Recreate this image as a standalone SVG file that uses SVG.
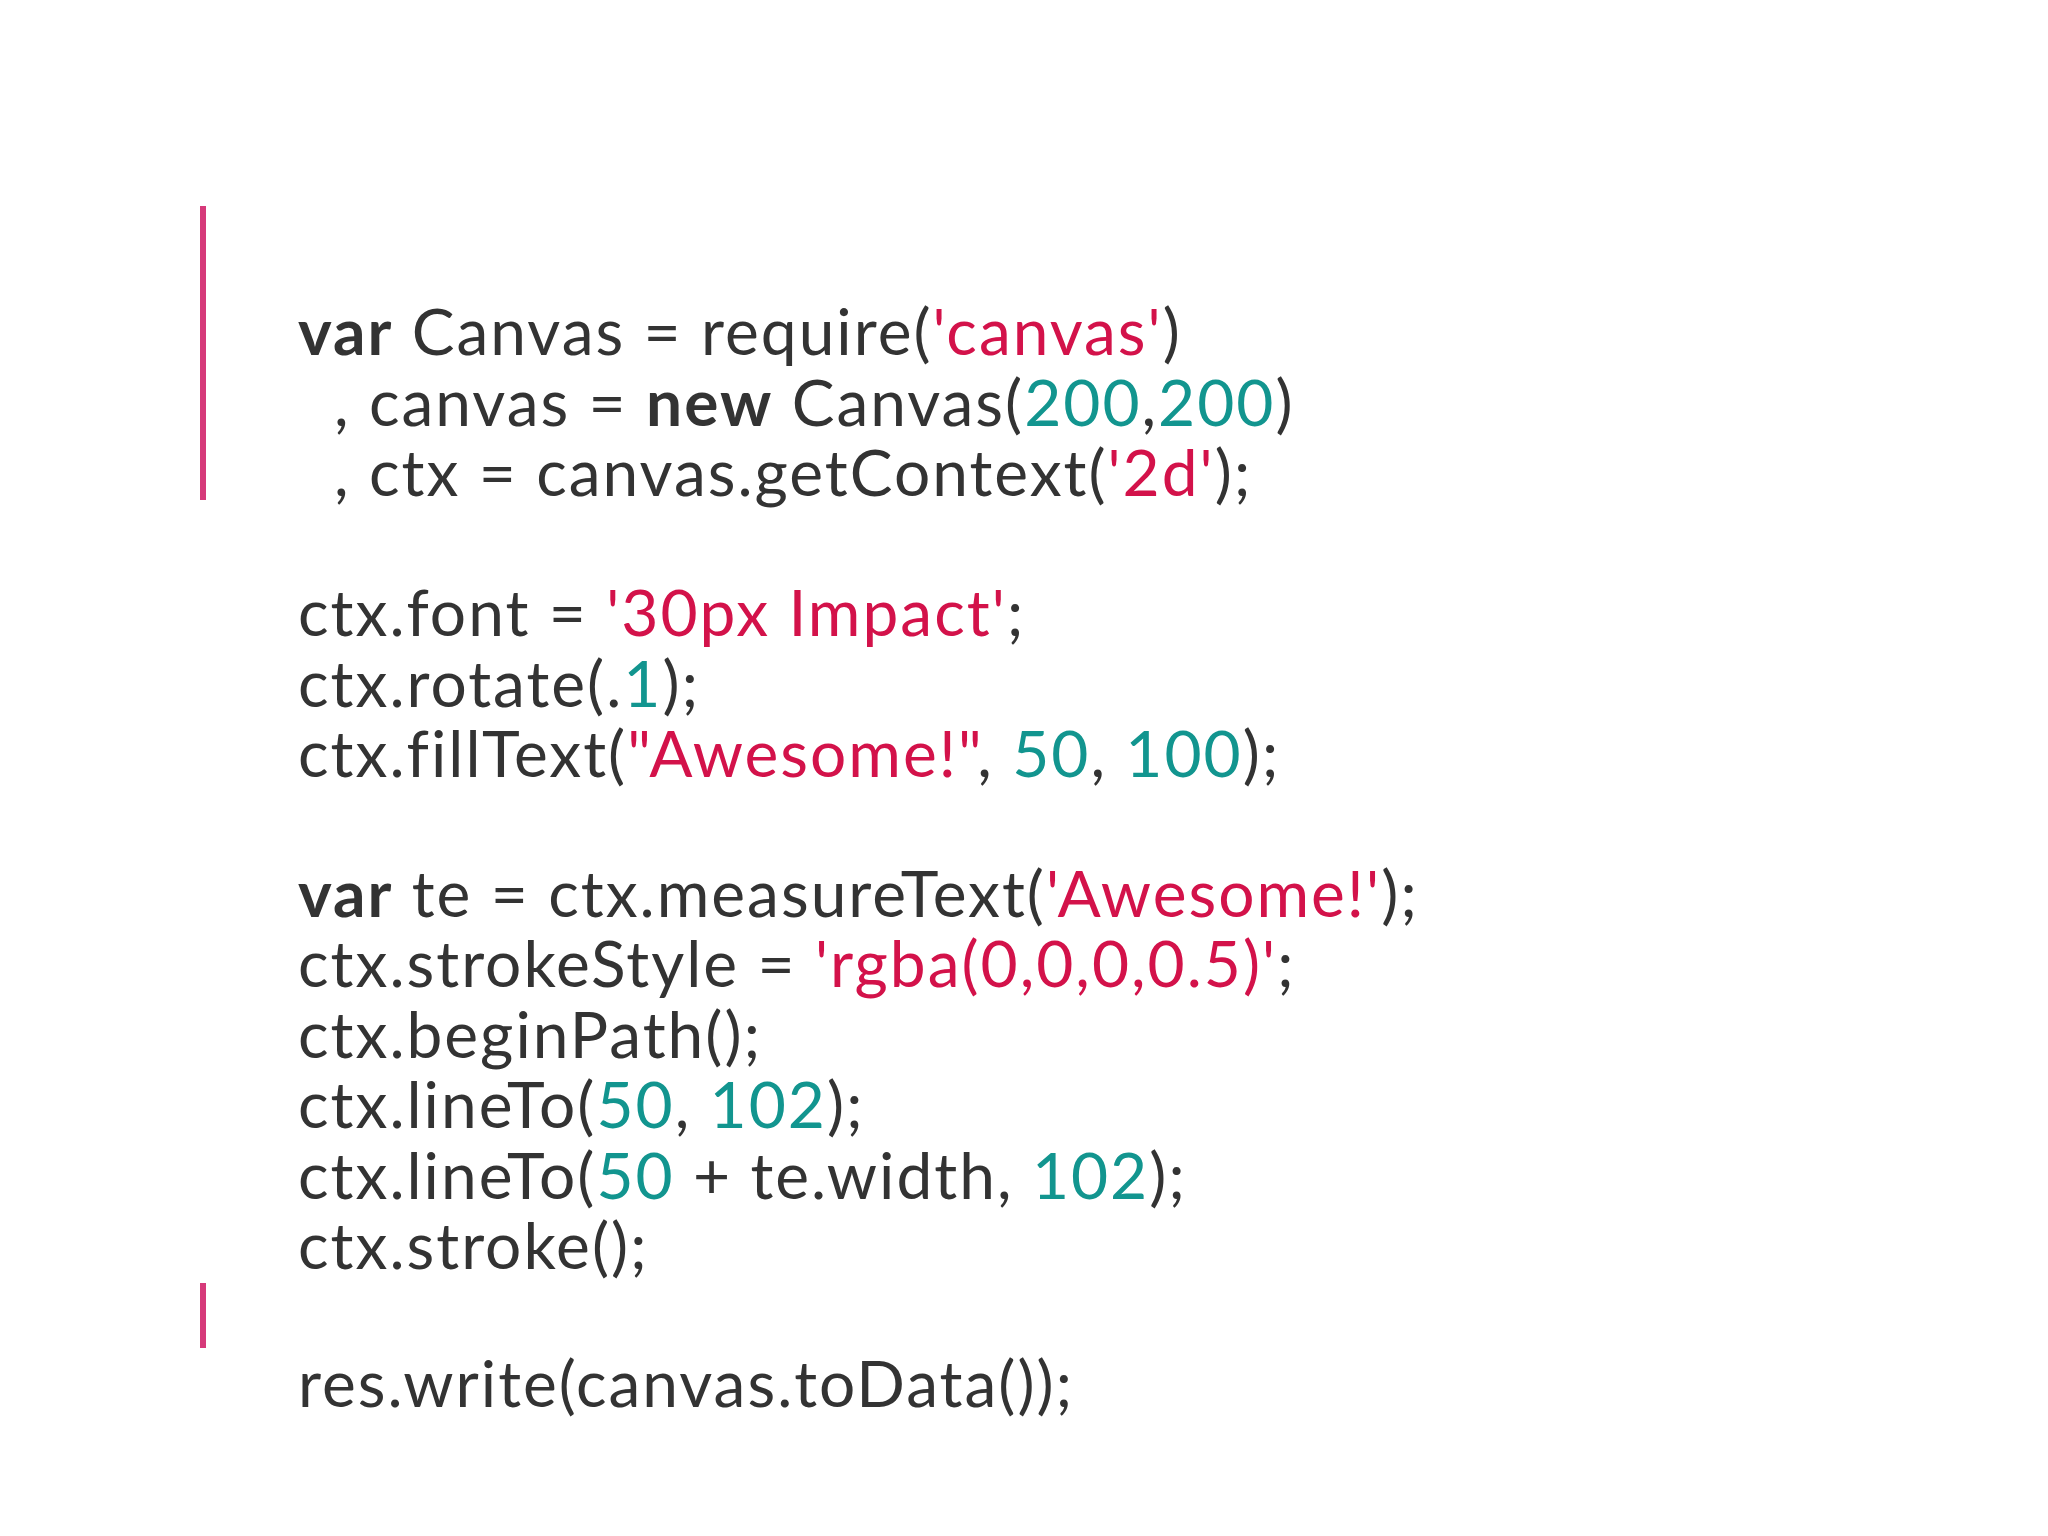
<svg xmlns="http://www.w3.org/2000/svg" width="2048" height="1536" viewBox="0 0 2048 1536">
<style>
text{font-family:Lato,"Noto Sans",sans-serif;font-size:64px;fill:#333;letter-spacing:2px;}
.k{font-weight:bold}
.s{fill:#d3124a}
.n{fill:#12958f}
.bar{fill:#d63a7a}
</style>
<rect width="2048" height="1536" fill="#fff"/>
<rect class="bar" x="200" y="206" width="6" height="294"/>
<rect class="bar" x="200" y="1283" width="6" height="65"/>
<g id="code">
<text x="298" y="355"><tspan class="k">var</tspan> Canvas = require(<tspan class="s">'canvas'</tspan>)</text>
<text x="334" y="426">, canvas = <tspan class="k">new</tspan> Canvas(<tspan class="n">200</tspan>,<tspan class="n">200</tspan>)</text>
<text x="334" y="496">, ctx = canvas.getContext(<tspan class="s">'2d'</tspan>);</text>
<text x="298" y="636">ctx.font = <tspan class="s">'30px Impact'</tspan>;</text>
<text x="298" y="707">ctx.rotate(.<tspan class="n">1</tspan>);</text>
<text x="298" y="777">ctx.fillText(<tspan class="s">"Awesome!"</tspan>, <tspan class="n">50</tspan>, <tspan class="n">100</tspan>);</text>
<text x="298" y="917"><tspan class="k">var</tspan> te = ctx.measureText(<tspan class="s">'Awesome!'</tspan>);</text>
<text x="298" y="987">ctx.strokeStyle = <tspan class="s">'rgba(0,0,0,0.5)'</tspan>;</text>
<text x="298" y="1058">ctx.beginPath();</text>
<text x="298" y="1128">ctx.lineTo(<tspan class="n">50</tspan>, <tspan class="n">102</tspan>);</text>
<text x="298" y="1199">ctx.lineTo(<tspan class="n">50</tspan> + te.width, <tspan class="n">102</tspan>);</text>
<text x="298" y="1269">ctx.stroke();</text>
<text x="298" y="1407">res.write(canvas.toData());</text>
</g>
</svg>
